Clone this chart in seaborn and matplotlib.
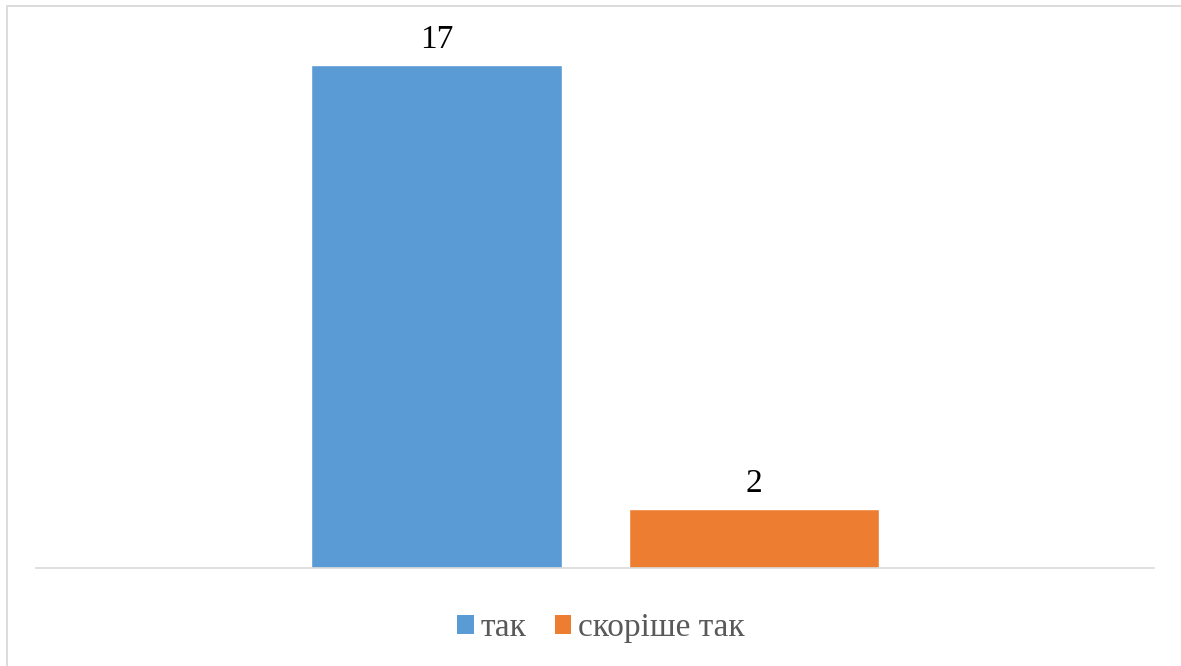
import matplotlib
matplotlib.use("Agg")
import matplotlib.pyplot as plt
import seaborn as sns
import pandas as pd
from matplotlib.patches import Patch, Rectangle

categories = ["так", "скоріше так"]
values = [17, 2]
colors = ["#5B9BD5", "#ED7D31"]

sns.set_theme(style="white")
plt.rcParams["font.family"] = ["Liberation Serif", "DejaVu Serif"]

W, H = 1181, 666
fig = plt.figure(figsize=(W / 100, H / 100), dpi=100)
fig.patch.set_facecolor("white")

ax_left, ax_right = 36, 1154
ax_bottom = 568
px_per_unit = (568 - 65) / 17
ymax = 18
ax_top = ax_bottom - ymax * px_per_unit
ax = fig.add_axes([ax_left / W, (H - ax_bottom) / H, (ax_right - ax_left) / W, (ax_bottom - ax_top) / H])

df = pd.DataFrame({"cat": categories, "val": values})
sns.barplot(data=df, x="cat", y="val", hue="cat", palette=colors, order=categories,
            hue_order=categories, width=0.79, legend=False, ax=ax, saturation=1)

ax.set_ylim(0, ymax)
spacing = 317.5
ax.set_xlim(-(436.5 - ax_left) / spacing, (ax_right - 436.5) / spacing)
ax.set_xticks([])
ax.set_yticks([])
ax.set_xlabel("")
ax.set_ylabel("")
for s in ["top", "right", "left"]:
    ax.spines[s].set_visible(False)
ax.spines["bottom"].set_color("#D9D9D9")
ax.spines["bottom"].set_linewidth(1.2)

for c in ax.containers:
    ax.bar_label(c, fmt="%d", padding=7, fontsize=24, color="#000000")

handles = [Patch(facecolor=colors[i], edgecolor="none", label=categories[i]) for i in range(2)]
leg = fig.legend(handles=handles, loc="center", bbox_to_anchor=(601 / W, 1 - 628 / H),
                 ncol=2, frameon=False, fontsize=24, handlelength=0.5, handleheight=0.5,
                 handletextpad=0.2, columnspacing=0.85, borderpad=0, borderaxespad=0)
for t in leg.get_texts():
    t.set_color("#595959")

fig.patches.append(Rectangle((7 / W, -0.05), 1.2, 1 - 6 / H + 0.05, transform=fig.transFigure,
                             fill=False, edgecolor="#D9D9D9", linewidth=1.3, figure=fig))

fig.savefig("out.png", dpi=100)
